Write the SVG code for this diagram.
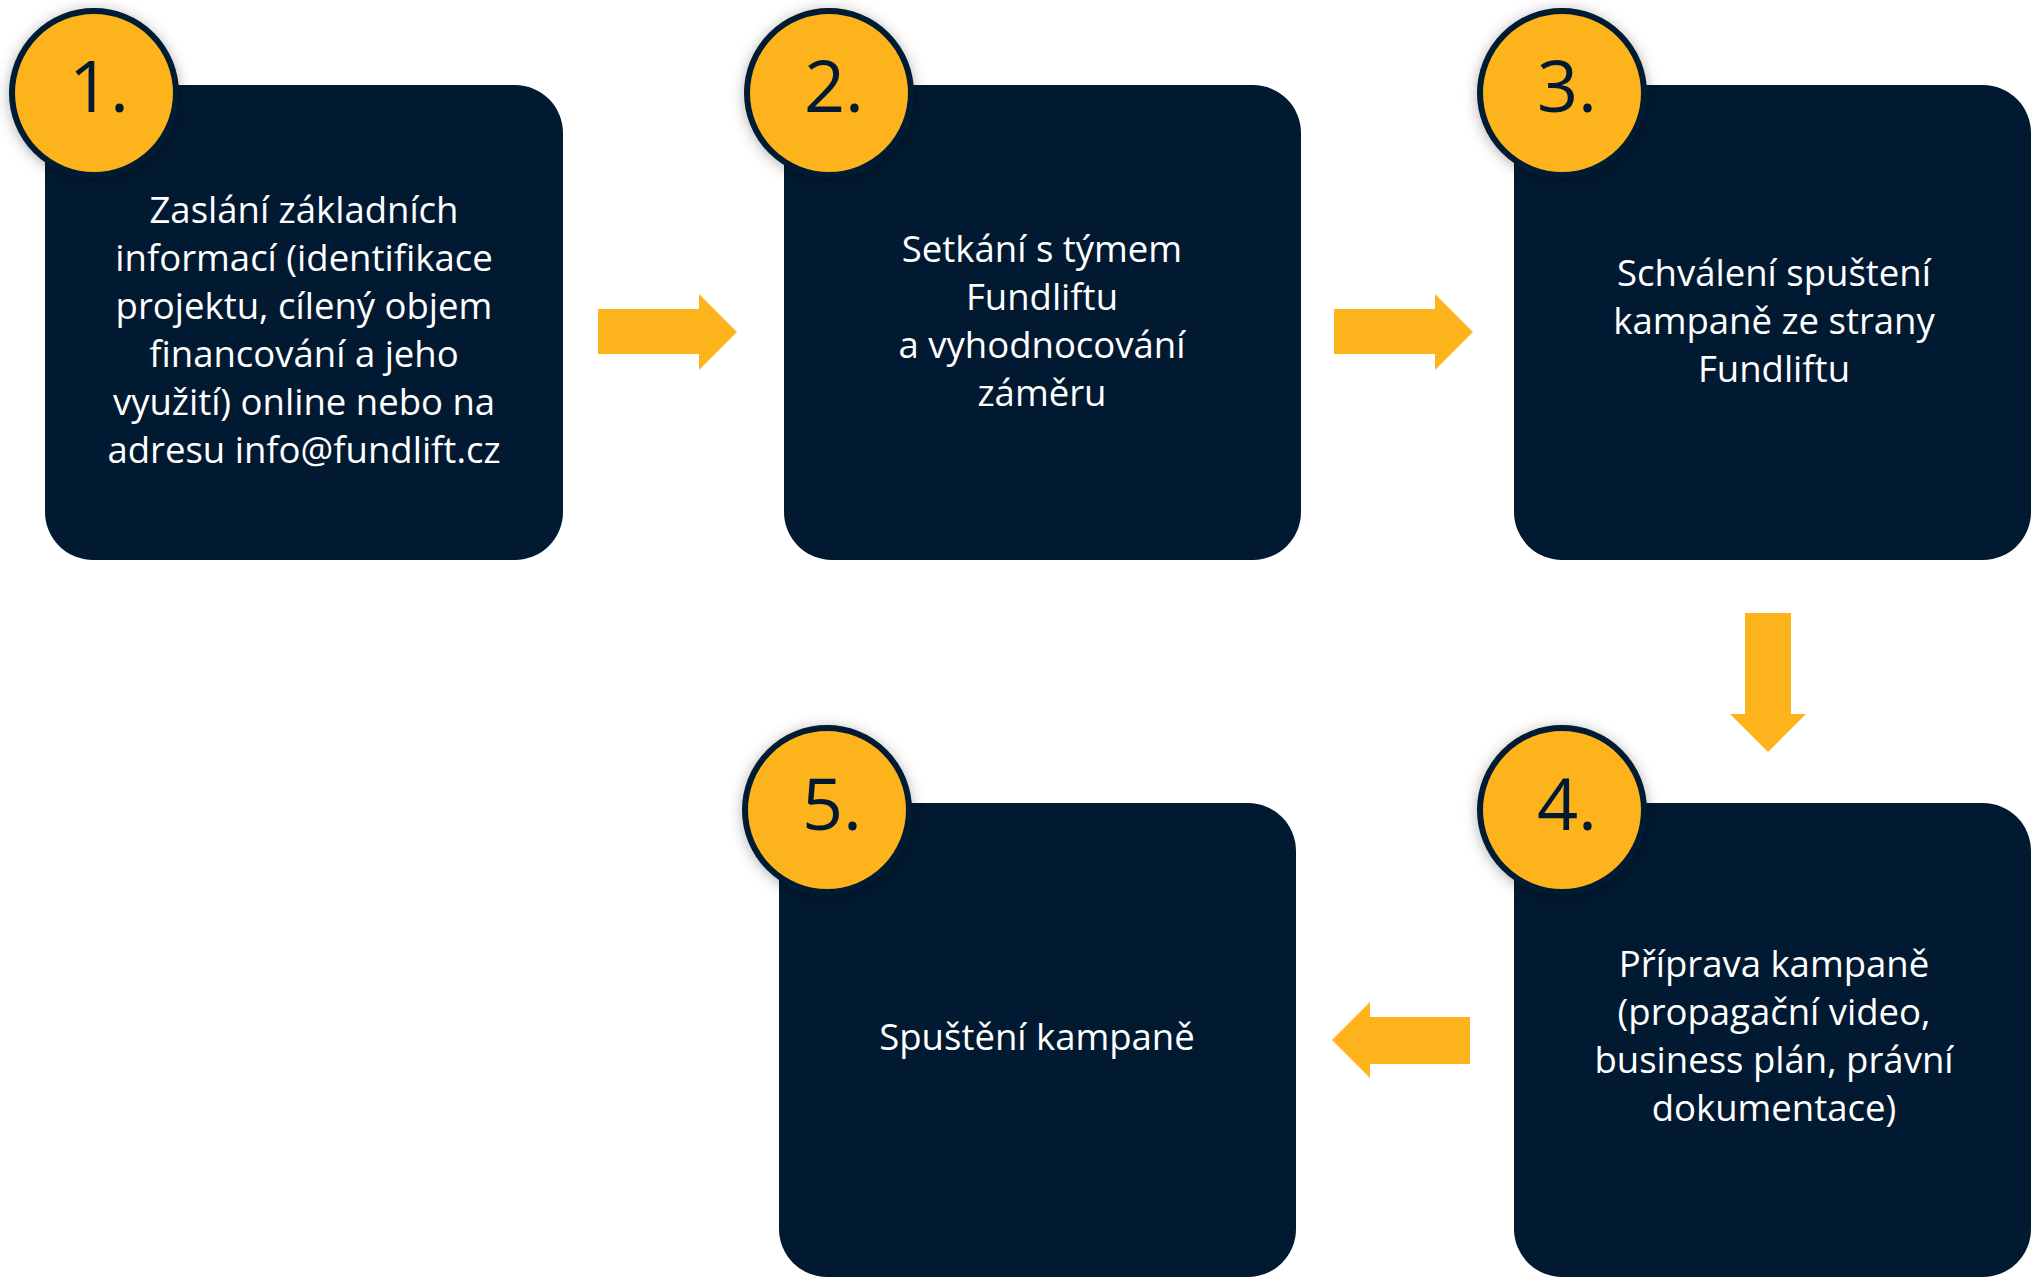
<svg xmlns="http://www.w3.org/2000/svg" width="2031" height="1288" viewBox="0 0 2031 1288">
<style>
.box{fill:#011a31}
.badge{fill:#fdb31b;stroke:#011a31;stroke-width:6}
.num{font-family:"Open Sans","Liberation Sans",sans-serif;font-size:72px;fill:#011a31;text-anchor:middle}
.lbl{font-family:"Open Sans","Liberation Sans",sans-serif;font-size:36.5px;fill:#ffffff;text-anchor:middle}
.arrow{fill:#fdb31b}
</style>
<defs>
<filter id="sh" x="-30%" y="-30%" width="160%" height="160%">
<feDropShadow dx="0" dy="2" stdDeviation="7" flood-color="#000" flood-opacity="0.3"/>
</filter>
</defs>
<rect width="2031" height="1288" fill="#ffffff"/>
<g id="connectors">
<path class="arrow" d="M598,309 H699 V294 L737,332 L699,370 V354 H598 Z"/>
<path class="arrow" d="M1334,309 H1435 V294 L1473,332 L1435,370 V354 H1334 Z"/>
<path class="arrow" d="M1745,613 H1791 V714 H1806 L1768,752 L1730,714 H1745 Z"/>
<path class="arrow" d="M1470,1017 H1370 V1002 L1332,1040 L1370,1078 V1064 H1470 Z"/>
</g>
<g id="node1">
<rect class="box" x="45" y="85" width="518" height="475" rx="48"/>
<circle class="badge" cx="94" cy="93" r="82" filter="url(#sh)"/>
<text class="num" x="99" y="112">1.</text>
<text class="lbl" x="304" y="223">Zaslání základních</text>
<text class="lbl" x="304" y="271">informací (identifikace</text>
<text class="lbl" x="304" y="319">projektu, cílený objem</text>
<text class="lbl" x="304" y="367">financování a jeho</text>
<text class="lbl" x="304" y="415">využití) online nebo na</text>
<text class="lbl" x="304" y="463">adresu info@fundlift.cz</text>
</g>
<g id="node2">
<rect class="box" x="784" y="85" width="517" height="475" rx="48"/>
<circle class="badge" cx="829" cy="93" r="82" filter="url(#sh)"/>
<text class="num" x="834" y="112">2.</text>
<text class="lbl" x="1042" y="262">Setkání s týmem</text>
<text class="lbl" x="1042" y="310">Fundliftu</text>
<text class="lbl" x="1042" y="358">a vyhodnocování</text>
<text class="lbl" x="1042" y="406">záměru</text>
</g>
<g id="node3">
<rect class="box" x="1514" y="85" width="517" height="475" rx="48"/>
<circle class="badge" cx="1562" cy="93" r="82" filter="url(#sh)"/>
<text class="num" x="1567" y="112">3.</text>
<text class="lbl" x="1774" y="286">Schválení spuštení</text>
<text class="lbl" x="1774" y="334">kampaně ze strany</text>
<text class="lbl" x="1774" y="382">Fundliftu</text>
</g>
<g id="node4">
<rect class="box" x="1514" y="803" width="517" height="474" rx="48"/>
<circle class="badge" cx="1562" cy="810" r="82" filter="url(#sh)"/>
<text class="num" x="1567" y="830">4.</text>
<text class="lbl" x="1774" y="977">Příprava kampaně</text>
<text class="lbl" x="1774" y="1025">(propagační video,</text>
<text class="lbl" x="1774" y="1073">business plán, právní</text>
<text class="lbl" x="1774" y="1121">dokumentace)</text>
</g>
<g id="node5">
<rect class="box" x="779" y="803" width="517" height="474" rx="48"/>
<circle class="badge" cx="827" cy="810" r="82" filter="url(#sh)"/>
<text class="num" x="832" y="830">5.</text>
<text class="lbl" x="1037" y="1050">Spuštění kampaně</text>
</g>
</svg>
